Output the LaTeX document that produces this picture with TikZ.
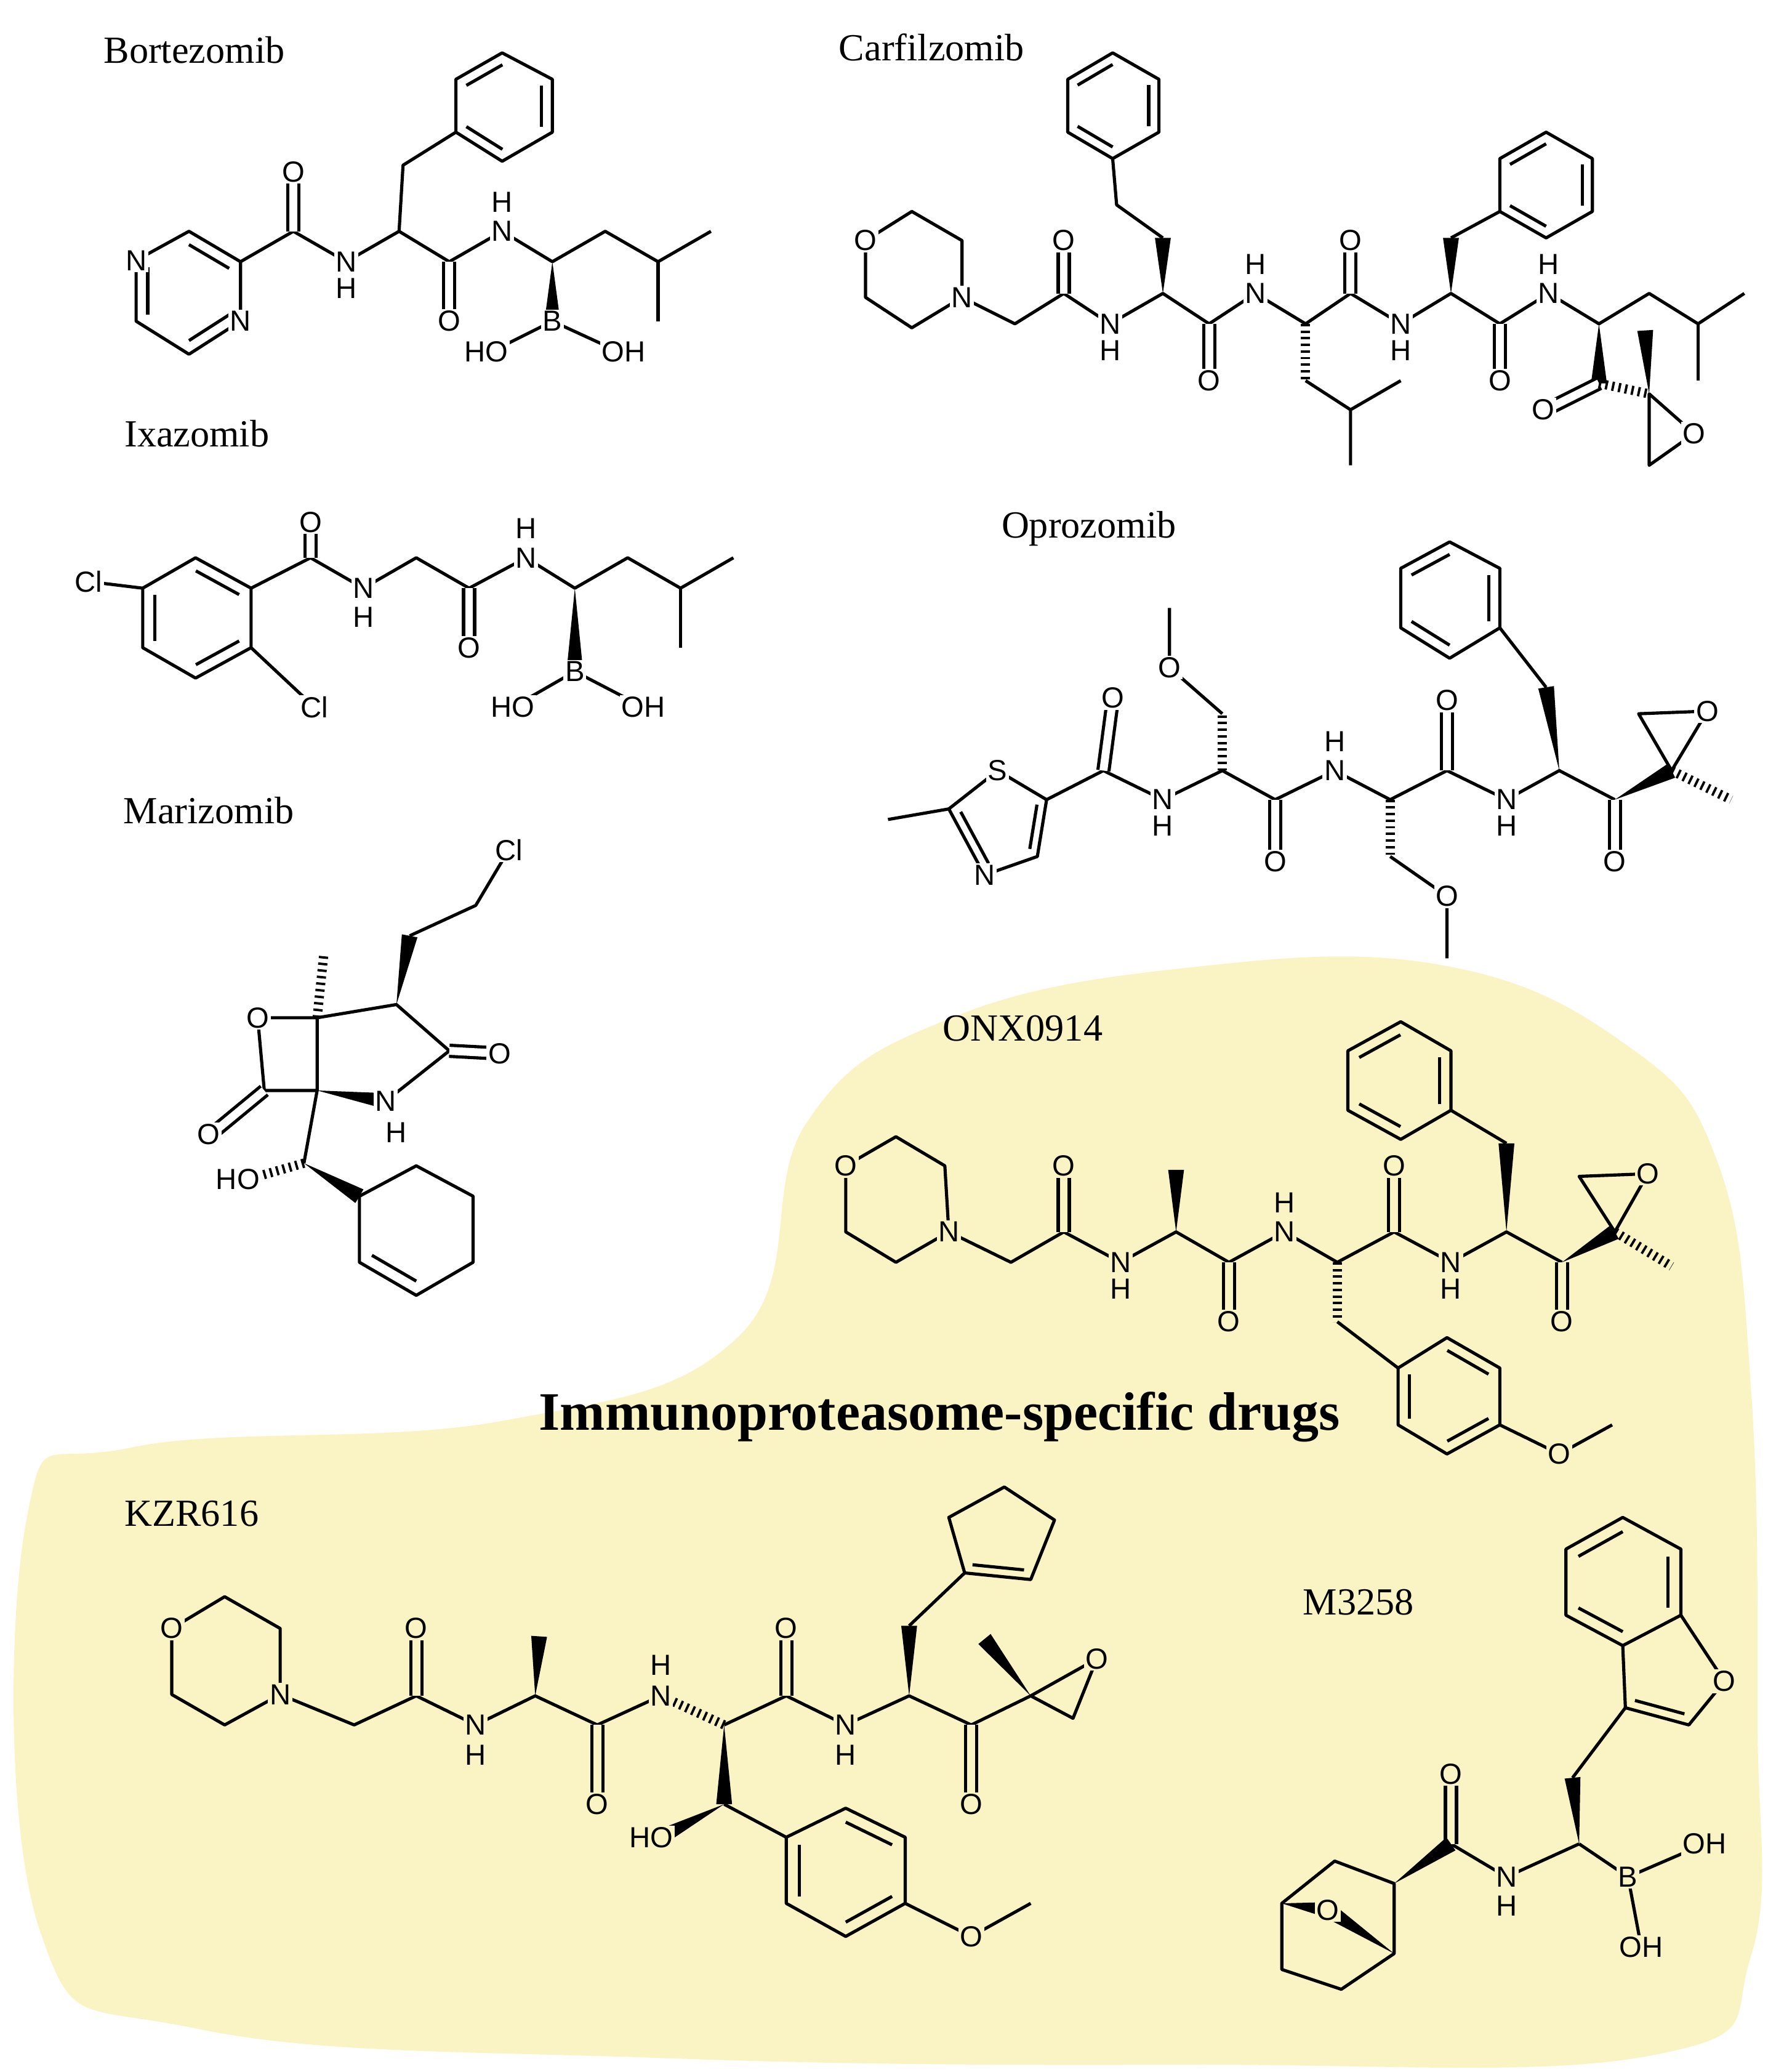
\documentclass[tikz,border=0pt]{standalone}
\usepackage{fontspec}
\setmainfont{Liberation Serif}
\setsansfont{Liberation Sans}
\usetikzlibrary{calc}
\definecolor{ybg}{RGB}{250,244,196}
\tikzset{b/.style={line width=1.2pt,line join=round},
 dw/.style={line width=1.2pt,double=white,double distance=3pt},
 dy/.style={line width=1.2pt,double=ybg,double distance=3pt},
 atom/.style={font=\sffamily\fontsize{11}{11}\selectfont,inner sep=0.6pt,fill=white},
 atomy/.style={atom,fill=ybg},
 title/.style={font=\fontsize{14.5}{14.5}\selectfont}}
\newcommand\wdg[2]{\fill ($(#1)$) -- ($(#2)!3pt!90:(#1)$) -- ($(#2)!3pt!-90:(#1)$) -- cycle;}
\newcommand\hsh[2]{\draw[line width=3.5pt,dash pattern=on 0.9pt off 1.6pt] (#1)--(#2);}
\newcommand\inr[3]{\draw[b] ($(#1)!0.22!(#3)$)--($(#2)!0.22!(#3)$);}
\newcommand\at[2]{\node[atom] at (#1) {#2};}
\newcommand\ay[2]{\node[atomy] at (#1) {#2};}
\begin{document}
\begin{tikzpicture}[x=0.5pt,y=-0.5pt]
\fill[white] (0,0) rectangle (1350,1567.6);
\useasboundingbox (0,0) rectangle (1350,1567.6);
\fill[ybg] plot[smooth cycle, tension=0.7] coordinates {(1090,730)(1230,790)(1300,880)(1325,1050)(1330,1300)(1325,1480)(1250,1555)(900,1562)(500,1557)(150,1535)(30,1460)(20,1150)(100,1095)(380,1075)(560,1010)(610,850)(720,770)(900,732)};
% titles
\node[title] at (147,38) {Bortezomib};
\node[title] at (705,36) {Carfilzomib};
\node[title] at (149,328) {Ixazomib};
\node[title] at (824,400) {Oprozomib};
\node[title] at (158,613) {Marizomib};
\node[title] at (774,778) {ONX0914};
\node[title] at (145,1145) {KZR616};
\node[title] at (1028,1212) {M3258};
\node[font=\bfseries\fontsize{20.5}{20.5}\selectfont] at (711,1072) {Immunoproteasome-specific drugs};
% ---------- Bortezomib
\draw[b] (103,197)--(143,175)--(182,198)--(182,243)--(143,268)--(103,243)--cycle;
\inr{143,175}{182,198}{143,221}\inr{182,243}{143,268}{143,221}\inr{103,243}{103,197}{143,221}
\draw[b] (182,198)--(222,175)--(262,198)--(302,175)--(340,198)--(380,175)--(418,198)--(458,175)--(498,198)--(538,175);
\draw[b] (498,198)--(498,243);
\draw[dw] (222,175)--(222,130); \draw[dw] (340,198)--(340,243);
\draw[b] (302,175)--(305,125)--(345,100);
\draw[b] (345,60)--(380,40)--(418,60)--(418,100)--(380,122)--(345,100)--cycle;
\inr{345,60}{380,40}{381,81}\inr{418,60}{418,100}{381,81}\inr{380,122}{345,100}{381,81}
\wdg{418,198}{418,243}
\draw[b] (372,266)--(418,243)--(468,266);
\at{103,197}{N}\at{182,243}{N}\at{222,130}{O}\at{262,198}{N}\at{262,218}{H}\at{340,243}{O}
\at{380,175}{N}\at{380,153}{H}\at{418,243}{B}\at{368,266}{HO}\at{472,266}{OH}
% ---------- Ixazomib
\draw[b] (108,445)--(148,422)--(190,445)--(190,490)--(148,513)--(108,490)--cycle;
\inr{148,422}{190,445}{149,467}\inr{190,490}{148,513}{149,467}\inr{108,490}{108,445}{149,467}
\draw[b] (108,445)--(67,440); \draw[b] (190,490)--(238,535);
\draw[b] (190,445)--(235,422)--(275,445)--(315,422)--(355,445)--(398,422)--(435,445)--(475,422)--(515,445)--(555,422);
\draw[b] (515,445)--(515,490);
\draw[dw] (235,422)--(235,395); \draw[dw] (355,445)--(355,490);
\wdg{435,445}{435,505}
\draw[b] (388,535)--(435,508)--(487,535);
\at{67,440}{Cl}\at{238,535}{Cl}\at{235,395}{O}\at{275,445}{N}\at{275,467}{H}\at{355,490}{O}
\at{398,422}{N}\at{398,400}{H}\at{435,508}{B}\at{388,535}{HO}\at{487,535}{OH}
% ---------- Marizomib
\draw[b] (195,770)--(240,770)--(240,825)--(200,825)--cycle;
\draw[dw] (200,825)--(160,858);
\hsh{240,770}{245,722}
\draw[b] (240,770)--(300,760)--(340,795)--(292,833);
\draw[dw] (340,795)--(378,797);
\wdg{300,760}{310,708}
\draw[b] (310,708)--(360,685)--(385,643);
\wdg{240,825}{292,833}
\draw[b] (240,825)--(230,880);
\hsh{230,880}{188,892}
\wdg{230,880}{272,905}
\draw[b] (272,905)--(315,882)--(358,905)--(358,955)--(315,980)--(272,955)--cycle;
\inr{272,955}{315,980}{315,931}
\at{195,770}{O}\at{158,858}{O}\at{378,797}{O}\at{385,643}{Cl}\at{292,833}{N}\at{300,857}{H}\at{180,892}{HO}
% ---------- Carfilzomib
\draw[b] (655,182)--(690,160)--(728,182)--(728,225)--(690,248)--(655,225)--cycle;
\draw[b] (728,225)--(768,245)--(805,222)--(840,245)--(880,222)--(915,245)--(950,222)--(988,245)--(1022,222)--(1060,245)--(1098,222)--(1135,245)--(1172,222)--(1210,245)--(1248,222)--(1285,245)--(1320,222);
\draw[b] (1285,245)--(1285,288);
\draw[dw] (805,222)--(805,182); \draw[dw] (915,245)--(915,288); \draw[dw] (1022,222)--(1022,182); \draw[dw] (1135,245)--(1135,288);
\wdg{880,222}{880,180}
\draw[b] (880,180)--(845,155)--(842,120);
\draw[b] (808,60)--(842,40)--(877,60)--(877,100)--(842,120)--(808,100)--cycle;
\inr{808,60}{842,40}{842,80}\inr{877,60}{877,100}{842,80}\inr{842,120}{808,100}{842,80}
\hsh{988,245}{988,288}
\draw[b] (988,288)--(1022,310)--(1022,352); \draw[b] (1022,310)--(1060,288);
\wdg{1098,222}{1098,180}
\draw[b] (1098,180)--(1135,160);
\draw[b] (1135,120)--(1170,100)--(1205,120)--(1205,160)--(1170,180)--(1135,160)--cycle;
\inr{1135,120}{1170,100}{1170,140}\inr{1205,120}{1205,160}{1170,140}\inr{1170,180}{1135,160}{1170,140}
\wdg{1210,245}{1210,290}
\draw[dw] (1210,290)--(1170,310);
\hsh{1210,290}{1248,298}
\draw[b] (1248,298)--(1282,328)--(1248,352)--cycle;
\wdg{1248,298}{1245,250}
\at{655,182}{O}\at{728,225}{N}\at{805,182}{O}\at{840,245}{N}\at{840,265}{H}\at{915,288}{O}
\at{950,222}{N}\at{950,200}{H}\at{1022,182}{O}\at{1060,245}{N}\at{1060,265}{H}\at{1135,288}{O}
\at{1172,222}{N}\at{1172,200}{H}\at{1168,310}{O}\at{1282,328}{O}
% ---------- Oprozomib
\draw[b] (718,612)--(755,583)--(792,605)--(785,648)--(745,662)--cycle;
\inr{718,612}{745,662}{759,622}\inr{792,605}{785,648}{759,622}
\draw[b] (672,620)--(718,612);
\draw[b] (792,605)--(835,583)--(880,605)--(925,583)--(965,605)--(1010,583)--(1052,605)--(1095,583)--(1140,605)--(1180,583)--(1222,605);
\draw[dw] (835,583)--(842,530); \draw[dw] (965,605)--(965,652); \draw[dw] (1095,583)--(1095,530); \draw[dw] (1222,605)--(1222,652);
\hsh{925,583}{925,540}
\draw[b] (925,540)--(885,505)--(885,460);
\hsh{1052,605}{1052,648}
\draw[b] (1052,648)--(1095,678)--(1095,725);
\wdg{1180,583}{1170,520}
\draw[b] (1170,520)--(1135,475);
\draw[b] (1060,430)--(1097,410)--(1135,430)--(1135,475)--(1097,498)--(1060,475)--cycle;
\inr{1060,430}{1097,410}{1097,453}\inr{1135,430}{1135,475}{1097,453}\inr{1097,498}{1060,475}{1097,453}
\wdg{1222,605}{1265,583}
\draw[b] (1265,583)--(1292,538)--(1240,540)--cycle;
\hsh{1265,583}{1310,605}
\at{755,583}{S}\at{745,662}{N}\at{842,528}{O}\at{880,605}{N}\at{880,625}{H}\at{885,505}{O}\at{965,652}{O}
\at{1010,583}{N}\at{1010,561}{H}\at{1095,678}{O}\at{1095,530}{O}\at{1140,605}{N}\at{1140,625}{H}\at{1222,652}{O}\at{1292,538}{O}
% ---------- ONX0914
\draw[b] (640,882)--(678,860)--(715,882)--(718,932)--(678,955)--(640,932)--cycle;
\draw[b] (718,932)--(765,955)--(805,932)--(848,955)--(890,932)--(930,955)--(972,932)--(1012,955)--(1055,932)--(1098,955)--(1140,932)--(1182,955);
\draw[dy] (805,932)--(805,882); \draw[dy] (930,955)--(930,1000); \draw[dy] (1055,932)--(1055,882); \draw[dy] (1182,955)--(1182,1000);
\wdg{890,932}{890,885}
\hsh{1012,955}{1012,1000}
\draw[b] (1012,1000)--(1058,1035);
\draw[b] (1058,1035)--(1095,1012)--(1135,1035)--(1135,1078)--(1095,1100)--(1058,1078)--cycle;
\inr{1095,1012}{1135,1035}{1096,1056}\inr{1135,1078}{1095,1100}{1096,1056}\inr{1058,1078}{1058,1035}{1096,1056}
\draw[b] (1135,1078)--(1180,1100)--(1220,1078);
\wdg{1140,932}{1140,865}
\draw[b] (1140,865)--(1098,840);
\draw[b] (1020,795)--(1060,773)--(1098,795)--(1098,840)--(1060,862)--(1020,840)--cycle;
\inr{1020,795}{1060,773}{1059,818}\inr{1098,795}{1098,840}{1059,818}\inr{1060,862}{1020,840}{1059,818}
\wdg{1182,955}{1222,932}
\draw[b] (1222,932)--(1247,888)--(1195,890)--cycle;
\hsh{1222,932}{1265,958}
\ay{640,882}{O}\ay{718,932}{N}\ay{805,882}{O}\ay{848,955}{N}\ay{848,975}{H}\ay{930,1000}{O}
\ay{972,932}{N}\ay{972,910}{H}\ay{1055,882}{O}\ay{1098,955}{N}\ay{1098,975}{H}\ay{1182,1000}{O}\ay{1247,888}{O}\ay{1180,1100}{O}
% ---------- KZR616
\draw[b] (130,1232)--(170,1208)--(212,1232)--(212,1282)--(170,1305)--(130,1282)--cycle;
\draw[b] (212,1282)--(268,1305)--(315,1283)--(360,1305)--(405,1283)--(452,1305)--(500,1283);
\draw[dy] (315,1283)--(315,1232);
\wdg{405,1283}{408,1238}
\draw[dy] (452,1305)--(452,1365);
\hsh{548,1305}{500,1283}
\draw[b] (548,1305)--(595,1283)--(640,1305)--(688,1283)--(735,1305)--(780,1283);
\draw[dy] (595,1283)--(595,1232); \draw[dy] (735,1305)--(735,1365);
\wdg{688,1283}{688,1230}
\draw[b] (688,1230)--(730,1190);
\draw[b] (730,1190)--(718,1148)--(760,1125)--(798,1150)--(780,1195)--cycle;
\inr{730,1190}{780,1195}{757,1162}
\wdg{780,1283}{745,1240}
\draw[b] (780,1283)--(830,1255)--(812,1300)--cycle;
\wdg{548,1305}{548,1365}
\wdg{548,1365}{500,1390}
\draw[b] (548,1365)--(595,1390);
\draw[b] (595,1390)--(640,1368)--(685,1390)--(685,1440)--(640,1465)--(595,1440)--cycle;
\inr{640,1368}{685,1390}{640,1416}\inr{685,1440}{640,1465}{640,1416}\inr{595,1440}{595,1390}{640,1416}
\draw[b] (685,1440)--(735,1465)--(780,1440);
\ay{130,1232}{O}\ay{212,1282}{N}\ay{315,1232}{O}\ay{360,1305}{N}\ay{360,1328}{H}\ay{452,1365}{O}
\ay{500,1283}{N}\ay{500,1260}{H}\ay{595,1232}{O}\ay{640,1305}{N}\ay{640,1328}{H}\ay{735,1365}{O}
\ay{830,1255}{O}\ay{493,1390}{HO}\ay{735,1465}{O}
% ---------- M3258
\draw[b] (1185,1172)--(1228,1148)--(1272,1172)--(1272,1222)--(1228,1245)--(1185,1222)--cycle;
\inr{1185,1172}{1228,1148}{1228,1197}\inr{1272,1172}{1272,1222}{1228,1197}\inr{1228,1245}{1185,1222}{1228,1197}
\draw[b] (1272,1222)--(1305,1272)--(1278,1305)--(1230,1292)--(1228,1245);
\inr{1278,1305}{1230,1292}{1263,1267}
\draw[b] (1230,1292)--(1190,1345);
\wdg{1195,1395}{1190,1345}
\draw[b] (1195,1395)--(1232,1420)--(1290,1395); \draw[b] (1232,1420)--(1242,1473);
\draw[b] (1195,1395)--(1140,1420)--(1098,1395);
\draw[dy] (1098,1395)--(1098,1342);
\wdg{1055,1425}{1098,1395}
\draw[b] (970,1440)--(1010,1408)--(1055,1425)--(1055,1478)--(1015,1505)--(970,1490)--cycle;
\wdg{970,1440}{1005,1445}
\wdg{1055,1478}{1005,1445}
\ay{1098,1342}{O}\ay{1140,1420}{N}\ay{1140,1442}{H}\ay{1232,1420}{B}\ay{1290,1395}{OH}\ay{1242,1473}{OH}\ay{1305,1272}{O}\ay{1005,1445}{O}
\end{tikzpicture}
\end{document}
